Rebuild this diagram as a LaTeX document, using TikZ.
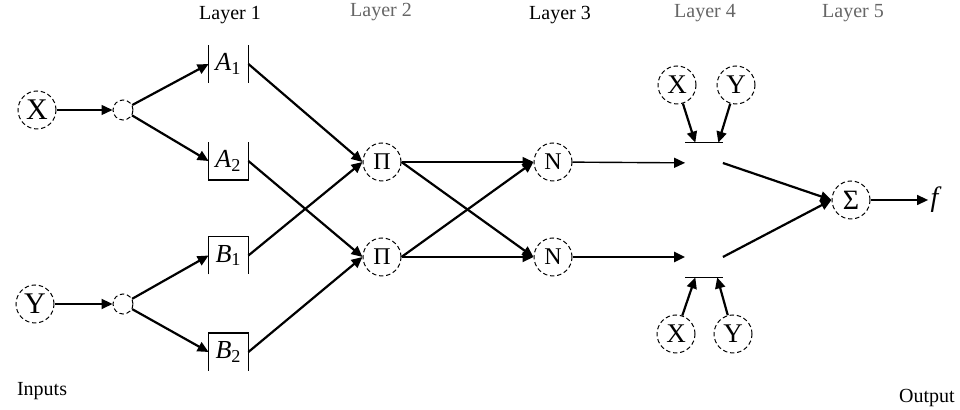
\documentclass[tikz,border=0pt]{standalone}
\usepackage{fontspec}
\setmainfont{Liberation Serif}
\usetikzlibrary{arrows.meta,calc}
\begin{document}
\begin{tikzpicture}[x=0.5pt,y=-0.5pt,
  dc/.style={circle,draw,line width=0.5pt,dash pattern=on 2.2pt off 1.4pt,inner sep=0pt,minimum size=19pt},
  sc/.style={circle,draw,line width=0.5pt,dash pattern=on 2.2pt off 1.4pt,inner sep=0pt,minimum size=10pt},
  mf/.style={rectangle,inner sep=0pt,minimum width=19.5pt,minimum height=18.5pt,font=\fontsize{13}{13}\selectfont},
  lf/.style={rectangle,inner sep=0pt,minimum width=18.5pt,minimum height=20pt},
  edgeline/.style={line width=0.8pt},
  arr/.style={line width=1.1pt,-{Triangle[length=5.5pt,width=5pt]}},
  tarr/.style={line width=0.7pt,-{Triangle[length=5.5pt,width=5pt]}},
  lab/.style={font=\fontsize{10}{12}\selectfont},
  glab/.style={font=\fontsize{10}{12}\selectfont,text=black!60}
]
\useasboundingbox (0,0) rectangle (960,410);
% labels
\node[lab] (l1) at (230,15) {Layer 1};
\node[glab] (l2) at (381,12) {Layer 2};
\node[lab] (l3) at (560,15) {Layer 3};
\node[glab] (l4) at (705,13) {Layer 4};
\node[glab] (l5) at (853,13) {Layer 5};
\node[lab,anchor=west] (inp) at (10,391) {Inputs};
\node[lab] (out) at (927,398) {Output};
% inputs
\node[dc,font=\fontsize{15}{15}\selectfont] (X) at (37,110) {X};
\node[dc,font=\fontsize{15}{15}\selectfont] (Y) at (35,304) {Y};
\node[sc] (sx) at (123,110) {};
\node[sc] (sy) at (123,304) {};
% layer 1
\node[mf] (A1) at (228.5,64) {\textit{A}\textsubscript{1}};
\node[mf] (A2) at (228.5,161) {\textit{A}\textsubscript{2}};
\node[mf] (B1) at (228.5,255.5) {\textit{B}\textsubscript{1}};
\node[mf] (B2) at (228.5,352) {\textit{B}\textsubscript{2}};
\draw[edgeline] (A1.north west) -- (A1.south west) (A1.north east) -- (A1.south east);
\draw[edgeline] (A2.north west) -- (A2.south west) -- (A2.south east) -- (A2.north east);
\draw[edgeline] (B1.south west) -- (B1.north west) -- (B1.north east) -- (B1.south east);
\draw[edgeline] (B2.south west) -- (B2.north west) -- (B2.north east) -- (B2.south east);
% layer 2,3
\node[dc,font=\fontsize{12}{12}\selectfont] (P1) at (382,162) {Π};
\node[dc,font=\fontsize{12}{12}\selectfont] (P2) at (382,257) {Π};
\node[dc,font=\fontsize{12}{12}\selectfont] (N1) at (553,162) {N};
\node[dc,font=\fontsize{12}{12}\selectfont] (N2) at (553,257) {N};
% layer 4
\node[lf] (L4a) at (704,163) {};
\node[lf] (L4b) at (704,257) {};
\draw[edgeline] (L4a.north west) -- (L4a.north east);
\draw[edgeline] (L4b.south west) -- (L4b.south east);
\node[dc,font=\fontsize{13.5}{13.5}\selectfont] (Ux) at (677,85) {X};
\node[dc,font=\fontsize{13.5}{13.5}\selectfont] (Uy) at (736,85) {Y};
\node[dc,font=\fontsize{13.5}{13.5}\selectfont] (Dx) at (676,334) {X};
\node[dc,font=\fontsize{13.5}{13.5}\selectfont] (Dy) at (733,334) {Y};
\coordinate (ua) at ($(L4a.north west)!0.27!(L4a.north east)$);
\coordinate (ub) at ($(L4a.north west)!0.88!(L4a.north east)$);
\coordinate (da) at ($(L4b.south west)!0.27!(L4b.south east)$);
\coordinate (db) at ($(L4b.south west)!0.85!(L4b.south east)$);
% layer 5
\node[dc,font=\fontsize{14}{14}\selectfont] (S) at (851,200) {Σ};
\node[font=\fontsize{14}{14}\selectfont,inner sep=1pt] (f) at (936,200) {\textit{f}};
% connectors
\draw[tarr] (X) -- (sx);
\draw[arr] (Y) -- (sy);
\draw[arr] (sx) -- (A1.west);
\draw[arr] (sx) -- (A2.west);
\draw[arr] (sy) -- (B1.west);
\draw[arr] (sy) -- (B2.west);
\draw[arr] (A1.east) -- (P1.west);
\draw[arr] (B1.east) -- (P1.west);
\draw[arr] (A2.east) -- (P2.west);
\draw[arr] (B2.east) -- (P2.west);
\draw[tarr] (P1.east) -- (N1.west);
\draw[arr] (P1.east) -- (N2.west);
\draw[arr] (P2.east) -- (N1.west);
\draw[arr] (P2.east) -- (N2.west);
\draw[tarr] (N1) -- (L4a);
\draw[arr] (N2) -- (L4b);
\draw[arr] (Ux) -- (ua);
\draw[arr] (Uy) -- (ub);
\draw[arr] (Dx) -- (da);
\draw[arr] (Dy) -- (db);
\draw[arr] (L4a.east) -- (S.west);
\draw[arr] (L4b.east) -- (S.west);
\draw[tarr] (S) -- (f);
\end{tikzpicture}
\end{document}
